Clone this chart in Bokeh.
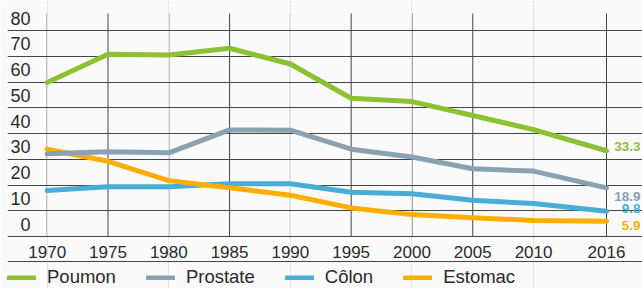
from bokeh.plotting import figure
from bokeh.models import Range1d, FixedTicker, Grid, Legend, LegendItem, Span
from bokeh.core.properties import value
from bokeh.embed import file_html
from bokeh.resources import INLINE

# ---- data ----
years = [1970, 1975, 1980, 1985, 1990, 1995, 2000, 2005, 2010, 2016]
year_labels = ["1970", "1975", "1980", "1985", "1990", "1995", "2000", "2005", "2010", "2016"]
poumon = [59.8, 70.8, 70.5, 73.1, 67.0, 53.7, 52.4, 47.0, 41.5, 33.3]
prostate = [32.1, 32.9, 32.5, 41.4, 41.3, 33.9, 30.9, 26.3, 25.4, 18.9]
colon = [17.9, 19.3, 19.3, 20.5, 20.5, 17.2, 16.6, 14.1, 12.8, 9.8]
estomac = [33.9, 29.2, 21.7, 18.9, 16.0, 11.1, 8.5, 7.3, 6.2, 5.9]
series_names = ["Poumon", "Prostate", "Côlon", "Estomac"]
y_ticks = [0, 10, 20, 30, 40, 50, 60, 70, 80]
y_tick_labels = ["0", "10", "20", "30", "40", "50", "60", "70", "80"]

# ---- styling / layout ----
colors = {"Poumon": "#8cc133", "Prostate": "#8aa1b1", "Côlon": "#48aed6", "Estomac": "#ffae00"}
label_nudge = {"Poumon": -4, "Prostate": 9, "Côlon": -3, "Estomac": 4}
FONT = "Liberation Sans"
BG = "#fafafa"
GRID = "#444444"
TXT = "#2a2a2a"

x0, x1 = 1966.735, 2018.961     # plot frame spans (almost) the whole figure
y0, y1 = -20.19, 91.65
grid_top = 86.6                 # vertical grid lines stop here
rule_y = -9.71                  # rule under the year labels

p = figure(width=642, height=288, output_backend="svg", toolbar_location=None,
           x_range=Range1d(x0, x1), y_range=Range1d(y0, y1),
           x_axis_location=None, y_axis_location=None,
           min_border_left=7, min_border_right=0, min_border_top=0, min_border_bottom=0,
           background_fill_color=BG, border_fill_color=BG, outline_line_color=None)

# horizontal grid lines across the full width
p.add_layout(Grid(dimension=1, ticker=FixedTicker(ticks=y_ticks), grid_line_color=GRID,
                  grid_line_width=1))
# vertical grid lines from 0 up to the top
p.segment(x0=years, y0=[y_ticks[0]] * len(years), x1=years, y1=[grid_top] * len(years),
          line_color=GRID, line_width=1, level="underlay")
p.add_layout(Span(location=rule_y, dimension="width", line_color=GRID, line_width=1))

# y tick labels: right-aligned, sitting just above their gridline
p.text(x=[x0] * len(y_ticks), y=y_ticks, text=y_tick_labels, x_offset=23, y_offset=-12.5,
       text_align="right", text_baseline="middle", text_font=value(FONT),
       text_font_size="18px", text_color=TXT)
# year tick labels under the 0 line
p.text(x=years, y=[y_ticks[0]] * len(years), text=year_labels, y_offset=15,
       text_align="center", text_baseline="middle", text_font=value(FONT),
       text_font_size="17px", text_color=TXT)

data = {"Poumon": poumon, "Prostate": prostate, "Côlon": colon, "Estomac": estomac}
renderers = {}
for name in ["Côlon", "Estomac", "Prostate", "Poumon"]:
    r = p.line(years, data[name], line_color=colors[name], line_width=5,
               line_cap="round", line_join="round")
    renderers[name] = r

# end labels (right-aligned near the right edge)
for name in series_names:
    vals = data[name]
    p.text(x=[years[-1]], y=[vals[-1]], text=[f"{vals[-1]}"], x_offset=34,
           y_offset=label_nudge[name], text_align="right", text_baseline="middle",
           text_font_size="13.5px", text_font_style="bold", text_color=colors[name],
           text_font=value(FONT))

legend = Legend(items=[LegendItem(label=n, renderers=[renderers[n]]) for n in series_names],
                orientation="horizontal", location=(0, 0),
                label_text_font=FONT, label_text_font_size="18.5px", label_text_color=TXT,
                glyph_width=29, glyph_height=5, label_height=18, label_standoff=11,
                spacing=30, padding=0, margin=0, border_line_color=None,
                background_fill_alpha=0)
p.add_layout(legend)

open("out.html", "w").write(file_html(p, INLINE))
